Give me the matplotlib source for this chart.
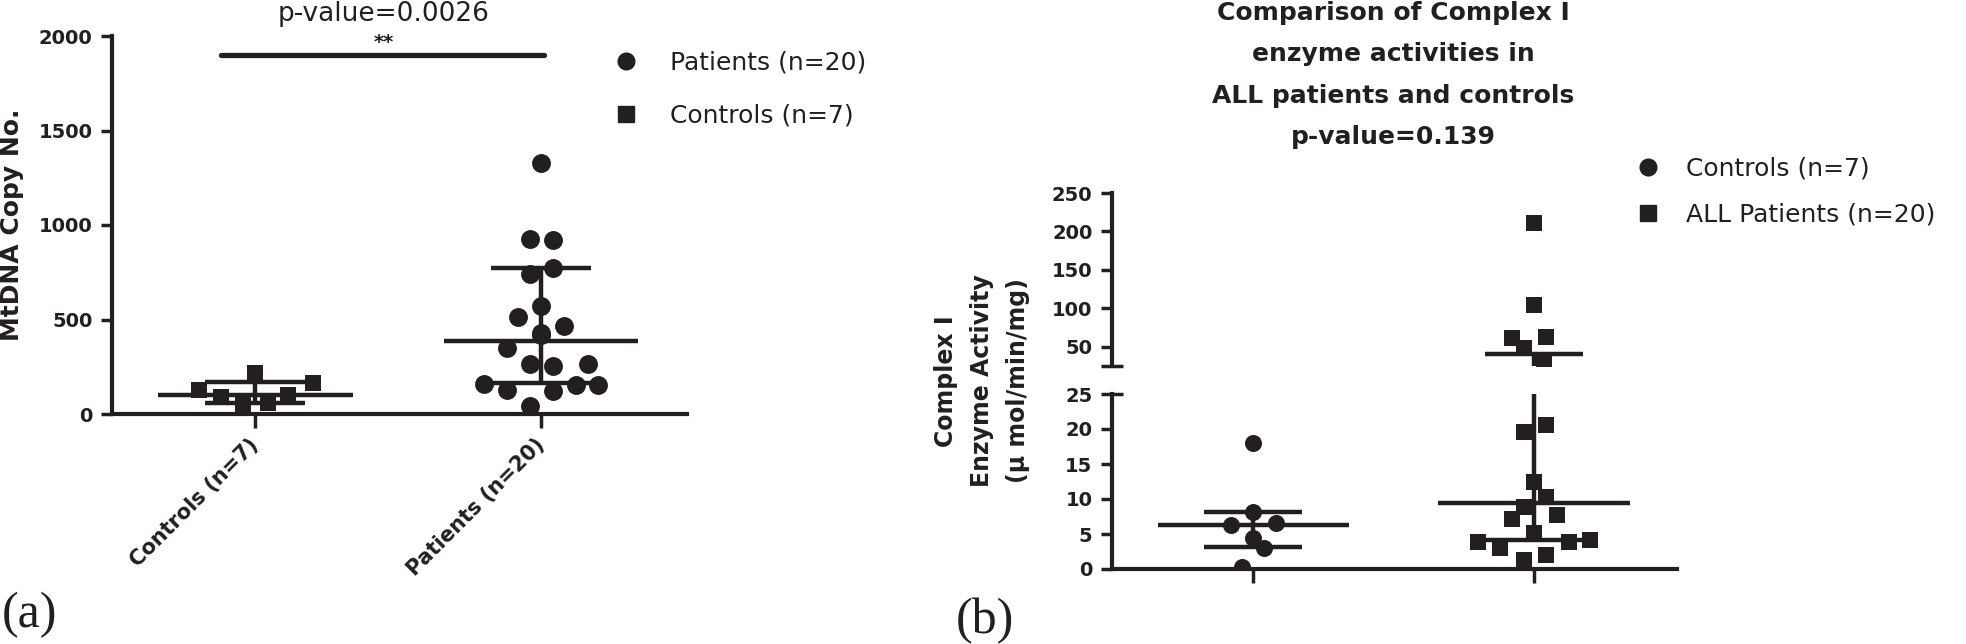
import matplotlib
matplotlib.use("Agg")
import matplotlib.pyplot as plt
from matplotlib.lines import Line2D

# ---------------- data ----------------
groups_a = ["Controls (n=7)", "Patients (n=20)"]
mtdna_controls = [215, 165, 125, 90, 45, 58, 100]
mtdna_patients = [1327, 925, 918, 772, 742, 573, 513, 467, 419, 430,
                  349, 266, 252, 266, 160, 129, 120, 155, 155, 41]
mtdna_median = [100, 384]
mtdna_q1 = [58, 164]
mtdna_q3 = [167, 772]
pvalue_a = "p-value=0.0026"
sig_label = "**"
sig_level = 1900
yticks_a = [0, 500, 1000, 1500, 2000]

groups_b = ["Controls (n=7)", "ALL Patients (n=20)"]
ci_controls = [18.0, 8.2, 6.3, 6.6, 4.4, 3.0, 0.3]
ci_patients = [211, 104, 61, 63, 48, 33, 19.6, 20.6, 12.5, 10.3,
               8.9, 7.2, 7.7, 5.1, 3.9, 3.0, 3.8, 4.2, 2.0, 1.3]
ci_median = [6.3, 9.4]
ci_q1 = [3.1, 4.2]
ci_q3 = [8.1, 41]
title_b = "Comparison of Complex I\nenzyme activities in\nALL patients and controls\np-value=0.139"
ylabel_b = "Complex I\nEnzyme Activity\n(\u00b5 mol/min/mg)"
yticks_b_low = [0, 5, 10, 15, 20, 25]
yticks_b_high = [25, 50, 100, 150, 200, 250]
break_level = 25

# ---------------- layout (horizontal scatter of points, category units) ----------------
jit_mt_controls = [0.0, 0.2, -0.198, -0.12, -0.042, 0.044, 0.114]
jit_mt_patients = [0.0, -0.039, 0.042, 0.042, -0.039, 0.0, -0.08, 0.081, 0.0, 0.0,
                   -0.119, -0.039, 0.042, 0.162, -0.2, -0.119, 0.042, 0.12, 0.198, -0.039]
jit_ci_controls = [0.0, 0.0, -0.078, 0.082, 0.0, 0.039, -0.039]
jit_ci_patients = [0.0, 0.0, -0.078, 0.041, -0.036, 0.036, -0.036, 0.041, 0.0, 0.041,
                   -0.036, -0.078, 0.082, 0.0, -0.2, -0.12, 0.125, 0.2, 0.041, -0.036]

INK = "#231f20"
plt.rcParams["font.family"] = ["DejaVu Sans"]

W, H = 1966, 644
fig = plt.figure(figsize=(W / 100, H / 100), dpi=100)


def px_axes(l, t, r, b):
    return fig.add_axes([l / W, 1 - b / H, (r - l) / W, (b - t) / H])


def style(ax, bottom=True):
    for s in ("top", "right"):
        ax.spines[s].set_visible(False)
    ax.spines["left"].set_linewidth(3)
    ax.spines["left"].set_color(INK)
    if bottom:
        ax.spines["bottom"].set_linewidth(3)
        ax.spines["bottom"].set_color(INK)
    else:
        ax.spines["bottom"].set_visible(False)
    ax.patch.set_alpha(0)
    ax.tick_params(axis="y", length=8, width=2.5, pad=6, colors=INK, labelsize=14)
    ax.tick_params(axis="x", length=10, width=2.5, colors=INK)


def summary(ax, x, med, q1, q3):
    kw = dict(color=INK, lw=3.2, solid_capstyle="butt", zorder=3)
    ax.plot([x - 0.34, x + 0.34], [med, med], **kw)
    ax.plot([x - 0.175, x + 0.175], [q1, q1], **kw)
    ax.plot([x - 0.175, x + 0.175], [q3, q3], **kw)
    ax.plot([x, x], [q1, q3], **kw)


# ================= panel (a) =================
axA = px_axes(112, 36, 687, 414)
style(axA)
axA.set_xlim(0.498, 2.51)
axA.set_ylim(0, 2000)

axA.scatter([1 + j for j in jit_mt_controls], mtdna_controls, marker="s", s=135,
            color=INK, linewidths=0, clip_on=False, zorder=2, label="Controls (n=7)")
axA.scatter([2 + j for j in jit_mt_patients], mtdna_patients, marker="o", s=185,
            color=INK, linewidths=0, clip_on=False, zorder=2, label="Patients (n=20)")
summary(axA, 1, mtdna_median[0], mtdna_q1[0], mtdna_q3[0])
summary(axA, 2, mtdna_median[1], mtdna_q1[1], mtdna_q3[1])

axA.plot([0.88, 2.01], [sig_level, sig_level], color=INK, lw=3.8,
         solid_capstyle="round", clip_on=False)
axA.text(1.45, sig_level + 15, sig_label, ha="center", va="bottom",
         fontsize=14, fontweight="bold", color=INK)

axA.set_yticks(yticks_a, labels=[str(v) for v in yticks_a], fontweight="bold")
axA.set_xticks([1, 2], labels=groups_a, rotation=45, ha="right", va="center",
               rotation_mode="anchor", fontsize=15, fontweight="bold", color=INK)
axA.tick_params(axis="x", pad=10)

fig.text(12 / W, 1 - 225 / H, "MtDNA Copy No.", rotation=90, ha="center", va="center",
         fontsize=18, fontweight="bold", color=INK)
fig.text(384 / W, 1 - 14 / H, pvalue_a, ha="center", va="center", fontsize=19, color=INK)

hA = [Line2D([], [], marker="o", ls="none", color=INK, markersize=12),
      Line2D([], [], marker="s", ls="none", color=INK, markersize=11)]
fig.legend(hA, ["Patients (n=20)", "Controls (n=7)"], loc="upper left",
           bbox_to_anchor=(613.5 / W, 1 - 50.5 / H), frameon=False, fontsize=18,
           handlelength=1.0, handletextpad=1.26, labelspacing=1.16,
           borderpad=0, borderaxespad=0, labelcolor=INK)

fig.text(29 / W, 1 - 615 / H, "(a)", ha="center", va="center", fontsize=36,
         family=["Liberation Serif"], color=INK)

# ================= panel (b) =================
axH = px_axes(1112, 193, 1677, 366)
axL = px_axes(1112, 394, 1677, 569)
style(axH, bottom=False)
style(axL)
for ax in (axH, axL):
    ax.set_xlim(0.498, 2.509)
axH.set_ylim(break_level, 250)
axL.set_ylim(0, break_level)

# lower segment: all points (those above the break fall outside and are clipped)
axL.scatter([1 + j for j in jit_ci_controls], ci_controls, marker="o", s=150,
            color=INK, linewidths=0, zorder=2)
axL.scatter([2 + j for j in jit_ci_patients], ci_patients, marker="s", s=140,
            color=INK, linewidths=0, zorder=2)
# upper segment: only points above the break
up_c = [(1 + j, v) for j, v in zip(jit_ci_controls, ci_controls) if v > break_level]
up_p = [(2 + j, v) for j, v in zip(jit_ci_patients, ci_patients) if v > break_level]
if up_c:
    axH.scatter([p[0] for p in up_c], [p[1] for p in up_c], marker="o", s=150,
                color=INK, linewidths=0, zorder=2)
axH.scatter([p[0] for p in up_p], [p[1] for p in up_p], marker="s", s=140,
            color=INK, linewidths=0, zorder=2)
for ax in (axH, axL):
    summary(ax, 1, ci_median[0], ci_q1[0], ci_q3[0])
    summary(ax, 2, ci_median[1], ci_q1[1], ci_q3[1])

axH.set_xticks([])
axH.set_yticks(yticks_b_high, labels=[""] + [str(v) for v in yticks_b_high[1:]],
               fontweight="bold")
axL.set_yticks(yticks_b_low, labels=[str(v) for v in yticks_b_low], fontweight="bold")
axL.set_xticks([1, 2], labels=["", ""])

# break marks: the 25 ticks cross the spine
for ax, idx in ((axH, 0), (axL, len(yticks_b_low) - 1)):
    t = ax.yaxis.get_major_ticks()[idx]
    t.tick1line.set_marker("_")
    t.tick1line.set_markersize(16)

fig.text(982 / W, 1 - 381 / H, ylabel_b, rotation=90, ha="center", va="center",
         multialignment="center", fontsize=17, fontweight="bold", linespacing=1.63,
         color=INK)
fig.text(1393 / W, 1 - 75 / H, title_b, ha="center", va="center",
         multialignment="center", fontsize=18, fontweight="bold", linespacing=1.9,
         color=INK)

hB = [Line2D([], [], marker="o", ls="none", color=INK, markersize=12),
      Line2D([], [], marker="s", ls="none", color=INK, markersize=11)]
fig.legend(hB, groups_b, loc="upper left",
           bbox_to_anchor=(1635.5 / W, 1 - 156.5 / H), frameon=False, fontsize=18,
           handlelength=1.0, handletextpad=1.03, labelspacing=0.88,
           borderpad=0, borderaxespad=0, labelcolor=INK)

fig.text(985 / W, 1 - 621 / H, "(b)", ha="center", va="center", fontsize=36,
         family=["Liberation Serif"], color=INK)

fig.savefig("out.png", dpi=100, facecolor="white")
